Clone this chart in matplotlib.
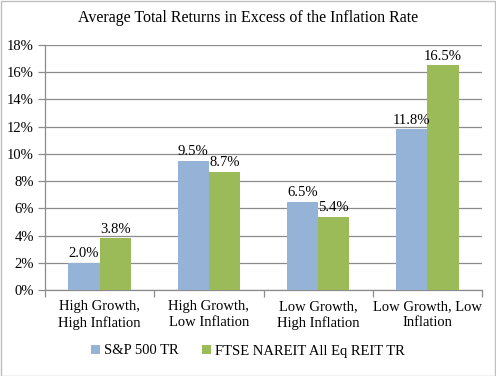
import numpy as np
import matplotlib
matplotlib.use('Agg')
import matplotlib.pyplot as plt
from matplotlib.patches import Rectangle

# data
categories = ['High Growth,\nHigh Inflation', 'High Growth,\nLow Inflation',
              'Low Growth,\nHigh Inflation', 'Low Growth, Low\nInflation']
sp500 = [2.0, 9.5, 6.5, 11.8]
reit = [3.8, 8.7, 5.4, 16.5]
series_names = ['S&P 500 TR', 'FTSE NAREIT All Eq REIT TR']
yticks = np.arange(0, 19, 2)

blue = '#95B3D7'
green = '#9BBB59'
grid_c = '#8C8C8C'

plt.rcParams['font.family'] = ['Liberation Serif']
fs = 10.5

fig = plt.figure(figsize=(4.96, 3.76), dpi=100)
ax = fig.add_axes([45/496, 1-290/376, (482-45)/496, (290-45)/376])

x = np.arange(len(categories))
w = 0.285
b1 = ax.bar(x - w/2, sp500, w, color=blue, label=series_names[0], zorder=3)
b2 = ax.bar(x + w/2, reit, w, color=green, label=series_names[1], zorder=3)

for bars, vals in [(b1, sp500), (b2, reit)]:
    for r, v in zip(bars, vals):
        ax.text(r.get_x() + r.get_width()/2, v + 0.2, '%.1f%%' % v,
                ha='center', va='bottom', fontsize=fs)

ax.set_xlim(-0.5, len(categories) - 0.5)
ax.set_ylim(0, 18)
ax.set_yticks(yticks)
ax.set_yticklabels(['%d%%' % t for t in yticks], fontsize=fs)
ax.yaxis.grid(True, color=grid_c, linewidth=0.9, zorder=0)
ax.set_axisbelow(True)
ax.tick_params(axis='y', length=5, color=grid_c, width=0.9, pad=3)

ax.set_xticks(x)
ax.set_xticklabels(categories, fontsize=fs, linespacing=1.3)
ax.tick_params(axis='x', length=0, pad=7)
# category separator ticks
ax.set_xticks(np.arange(-0.5, len(categories)), minor=True)
ax.tick_params(axis='x', which='minor', length=5, color=grid_c, width=0.9)

for s in ['top', 'right']:
    ax.spines[s].set_visible(False)
for s in ['left', 'bottom']:
    ax.spines[s].set_color(grid_c)
    ax.spines[s].set_linewidth(0.9)

fig.text(0.5, 1-18/376, 'Average Total Returns in Excess of the Inflation Rate',
         ha='center', va='center', fontsize=11.5)

fig.legend(handles=[b1, b2], labels=series_names, loc='center',
           bbox_to_anchor=(0.5, 1-351/376), ncol=2, frameon=False,
           fontsize=fs, handlelength=0.6, handleheight=0.6,
           handletextpad=0.3, columnspacing=1.6)

fig.patches.append(Rectangle((0.5/496, 0.5/376), 1-1.5/496, 1-1.5/376,
                             transform=fig.transFigure, fill=False,
                             edgecolor='#BFBFBF', linewidth=1))

fig.savefig('out.png', dpi=100)
